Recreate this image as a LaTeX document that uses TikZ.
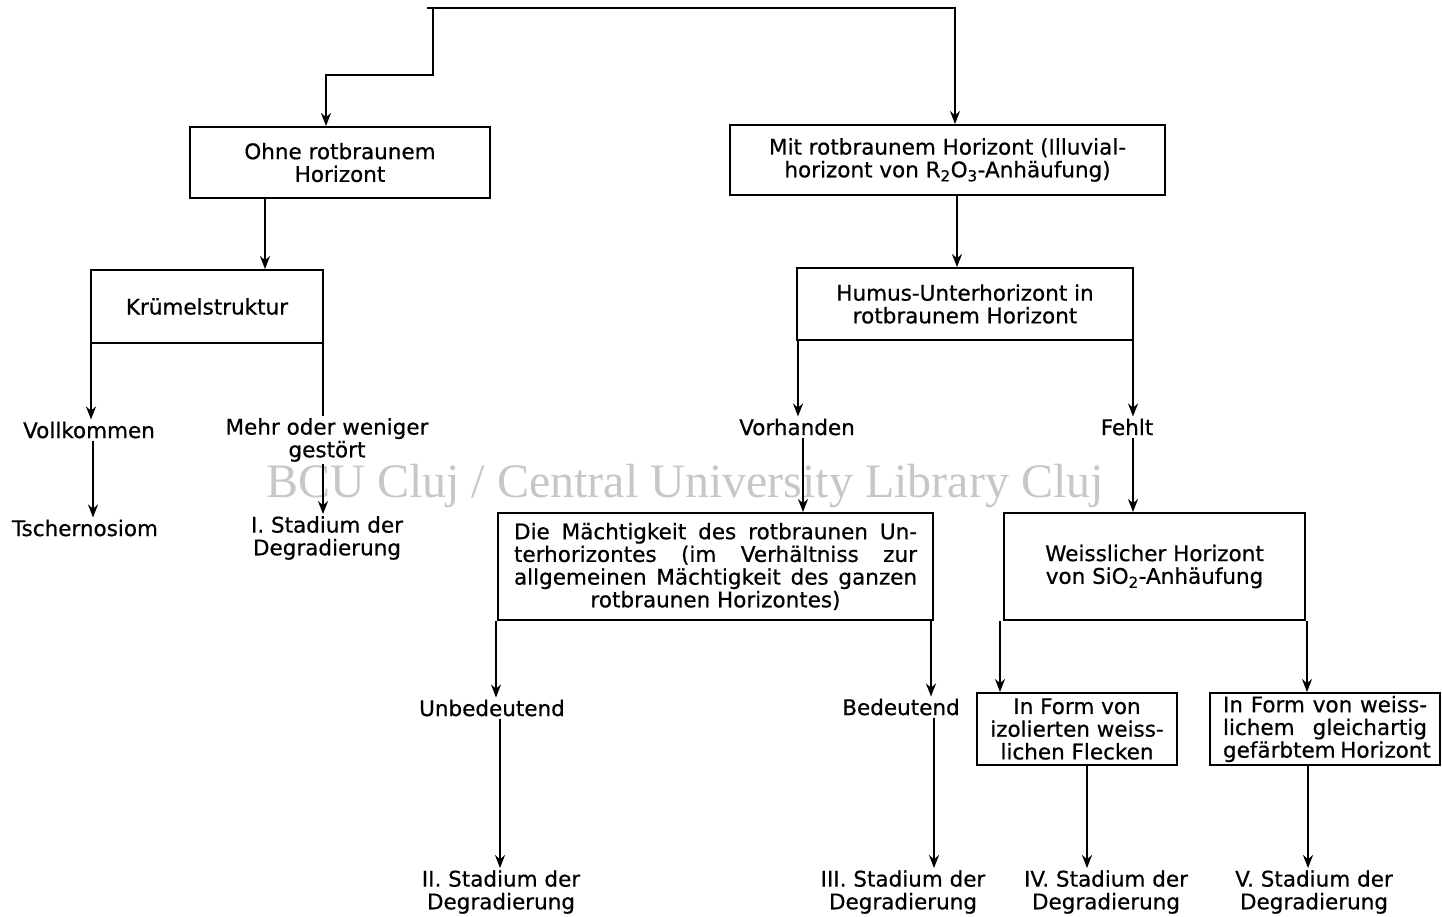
\documentclass[tikz,border=0pt]{standalone}
\usepackage{fontspec}
\setmainfont{DejaVu Sans}[FakeBold=0.6]
\newfontfamily\wmfont{Liberation Serif}
\usetikzlibrary{arrows.meta}

\newcommand{\jline}[2]{\makebox[#1][s]{#2}}

\begin{document}
\begin{tikzpicture}[x=1pt,y=-1pt,
    font=\fontsize{21.5}{22.7}\selectfont,
    box/.style={draw,line width=2pt,inner sep=0pt,align=center},
    lbl/.style={inner sep=2pt,align=center},
    arr/.style={line width=2pt,-{Stealth[length=13pt,width=10pt]}},
    lin/.style={line width=2pt}]
  \useasboundingbox (0,0) rectangle (1442,917);

  % watermark
  \node[text=black!22] (wm) at (685,486)
    {\wmfont\fontsize{48}{50}\selectfont BCU Cluj / Central University Library Cluj};

  % boxes
  \node[box,minimum width=300,minimum height=71] (ohne) at (340,162.5)
    {Ohne rotbraunem\\Horizont};
  \node[box,minimum width=435,minimum height=70] (mit) at (947.5,160)
    {Mit rotbraunem Horizont (Illuvial-\\horizont von R\textsubscript{2}O\textsubscript{3}-Anhäufung)};
  \node[box,minimum width=232,minimum height=73] (kruemel) at (207,306.5)
    {Krümelstruktur};
  \node[box,minimum width=336,minimum height=72] (humus) at (965,304)
    {Humus-Unterhorizont in\\rotbraunem Horizont};
  \node[box,minimum width=435,minimum height=107] (maecht) at (715.5,566.5)
    {\jline{403pt}{Die Mächtigkeit des rotbraunen Un-}\\
     \jline{403pt}{terhorizontes (im Verhältniss zur}\\
     \jline{403pt}{allgemeinen Mächtigkeit des ganzen}\\
     rotbraunen Horizontes)};
  \node[box,minimum width=301,minimum height=107] (weiss) at (1154.5,566.5)
    {Weisslicher Horizont\\von SiO\textsubscript{2}-Anhäufung};
  \node[box,minimum width=200,minimum height=72] (form1) at (1077,729)
    {In Form von\\izolierten weiss-\\lichen Flecken};
  \node[box,minimum width=230,minimum height=72] (form2) at (1325,729)
    {\jline{204pt}{In Form von weiss-}\\
     \jline{204pt}{lichem gleichartig}\\
     \jline{204pt}{gefärbtem Horizont}};

  % labels
  \node[lbl] (voll) at (89,430) {Vollkommen};
  \node[lbl] (mehr) at (327,440) {Mehr oder weniger\\gestört};
  \node[lbl] (tscher) at (85,528) {Tschernosiom};
  \node[lbl] (st1) at (327,538) {I. Stadium der\\Degradierung};
  \node[lbl] (vorh) at (797,427) {Vorhanden};
  \node[lbl] (fehlt) at (1127,427) {Fehlt};
  \node[lbl] (unbed) at (492,708) {Unbedeutend};
  \node[lbl] (bed) at (901,707) {Bedeutend};
  \node[lbl] (st2) at (501,892) {II. Stadium der\\Degradierung};
  \node[lbl] (st3) at (903,892) {III. Stadium der\\Degradierung};
  \node[lbl] (st4) at (1106,892) {IV. Stadium der\\Degradierung};
  \node[lbl] (st5) at (1314,892) {V. Stadium der\\Degradierung};

  % connectors
  \coordinate (tl) at (427,8);
  \coordinate (tr) at (955,8);
  \coordinate (ta) at (433,8);
  \coordinate (tb) at (326,75);
  \draw[arr] (tl) -- (tr) -- (tr |- mit.north);
  \draw[arr] (ta) |- (tb) -- (tb |- ohne.north);

  \draw[arr] ([xshift=-75pt]ohne.south) -- ([xshift=-75pt]ohne.south |- kruemel.north);
  \draw[arr] ([xshift=9.5pt]mit.south) -- ([xshift=9.5pt]mit.south |- humus.north);

  \draw[arr] ([xshift=1pt]kruemel.south west) -- ([xshift=1pt]kruemel.south west |- voll.north);
  \draw[lin] ([xshift=-1pt]kruemel.south east) -- ([xshift=-1pt]kruemel.south east |- mehr.north);
  \draw[arr] ([xshift=4pt]voll.south) -- ([xshift=4pt]voll.south |- tscher.north);
  \draw[arr] ([xshift=-4pt]mehr.south) -- ([xshift=-4pt]mehr.south |- st1.north);

  \draw[arr] ([xshift=2pt]humus.south west) -- ([xshift=2pt]humus.south west |- vorh.north);
  \draw[arr] ([xshift=-1pt]humus.south east) -- ([xshift=-1pt]humus.south east |- fehlt.north);
  \draw[arr] ([xshift=6pt]vorh.south) -- ([xshift=6pt]vorh.south |- maecht.north);
  \draw[arr] ([xshift=6pt]fehlt.south) -- ([xshift=6pt]fehlt.south |- weiss.north);

  \draw[arr] ([xshift=-1pt]maecht.south west) -- ([xshift=-1pt]maecht.south west |- unbed.north);
  \draw[arr] ([xshift=-3pt]maecht.south east) -- ([xshift=-3pt]maecht.south east |- bed.north);
  \draw[arr] ([xshift=8pt]unbed.south) -- ([xshift=8pt]unbed.south |- st2.north);
  \draw[arr] ([xshift=33pt]bed.south) -- ([xshift=33pt]bed.south |- st3.north);

  \draw[arr] ([xshift=-3pt]weiss.south west) -- ([xshift=-3pt]weiss.south west |- form1.north);
  \draw[arr] ([xshift=1pt]weiss.south east) -- ([xshift=1pt]weiss.south east |- form2.north);
  \draw[arr] ([xshift=10pt]form1.south) -- ([xshift=10pt]form1.south |- st4.north);
  \draw[arr] ([xshift=-17pt]form2.south) -- ([xshift=-17pt]form2.south |- st5.north);
\end{tikzpicture}
\end{document}
